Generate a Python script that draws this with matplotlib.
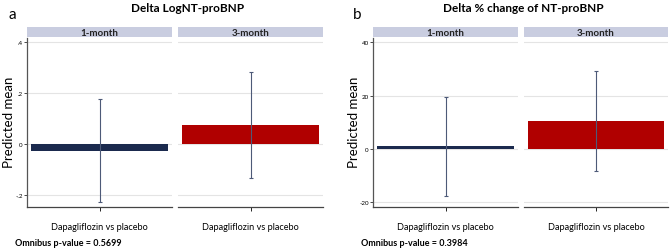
import matplotlib
matplotlib.use("Agg")
import matplotlib.pyplot as plt

plt.rcParams['font.family'] = ['Lato', 'DejaVu Sans']

# values
periods = ["1-month", "3-month"]
comparison = "Dapagliflozin vs placebo"

log_means = [-0.026, 0.075]
log_err = [0.202, 0.207]
log_ticks = [-0.2, 0, 0.2, 0.4]
log_ticklabels = ["-.2", "0", ".2", ".4"]

pct_means = [0.9, 10.5]
pct_err = [18.5, 18.7]
pct_ticks = [-20, 0, 20, 40]
pct_ticklabels = ["-20", "0", "20", "40"]

bar_colors = ["#1b2a4e", "#b00000"]
strip_color = "#c9cde0"
err_color = "#4d5a78"

W, H = 671, 251
fig = plt.figure(figsize=(W / 100, H / 100), dpi=100)


def px_box(x0, y0, x1, y1):
    # pixel box (top-left origin) -> figure fraction rect
    return [x0 / W, 1 - y1 / H, (x1 - x0) / W, (y1 - y0) / H]


def draw_panel(letter, title, panels, means, errs, ticks, ticklabels, ylim,
               pvalue, ylab_x, letter_x, title_x):
    for i, (x0, x1) in enumerate(panels):
        ax = fig.add_axes(px_box(x0, 39, x1, 208))
        ax.bar([0], [means[i]], width=0.94, color=bar_colors[i], zorder=3)
        ax.errorbar([0], [means[i]], yerr=[errs[i]], fmt="none",
                    ecolor=err_color, elinewidth=0.8, capsize=1.5,
                    capthick=0.8, zorder=4)
        ax.set_xlim(-0.5, 0.5)
        ax.set_ylim(*ylim)
        ax.set_yticks(ticks)
        for t in ticks:
            ax.axhline(t, color="#e4e4e4", lw=0.8, zorder=1)
        ax.set_xticks([0])
        ax.set_xticklabels([comparison], fontsize=6.6)
        ax.tick_params(axis="x", length=3, width=0.6, pad=8)
        for s in ["top", "right"]:
            ax.spines[s].set_visible(False)
        ax.spines["bottom"].set_color("#444444")
        ax.spines["bottom"].set_linewidth(0.9)
        if i == 0:
            ax.set_yticklabels(ticklabels, fontsize=4.5)
            ax.tick_params(axis="y", length=2, width=0.5, pad=1)
            ax.spines["left"].set_color("#555555")
            ax.spines["left"].set_linewidth(0.9)
        else:
            ax.spines["left"].set_visible(False)
            ax.tick_params(axis="y", left=False, labelleft=False)

        sax = fig.add_axes(px_box(x0, 28, x1, 38))
        sax.set_facecolor(strip_color)
        sax.set_xticks([])
        sax.set_yticks([])
        for s in sax.spines.values():
            s.set_visible(False)
        sax.text(0.5, 0.45, periods[i], ha="center", va="center",
                 fontsize=7, fontweight="bold", color="#222222",
                 transform=sax.transAxes)

    fig.text(ylab_x / W, 1 - 122 / H, "Predicted mean", rotation=90,
             ha="center", va="center", fontsize=9.5)
    fig.text(letter_x / W, 1 - 15 / H, letter, ha="center", va="center",
             fontsize=11)
    fig.text(title_x / W, 1 - 9 / H, title, ha="center", va="center",
             fontsize=8.5, fontweight="bold")
    fig.text((panels[0][0] - 12) / W, 1 - 244 / H,
             "Omnibus p-value = " + pvalue, ha="left", va="center",
             fontsize=6.5, fontweight="bold")


draw_panel("a", "Delta LogNT-proBNP", [(27, 172), (178, 323)],
           log_means, log_err, log_ticks, log_ticklabels, (-0.247, 0.416),
           "0.5699", 9, 12, 188)
draw_panel("b", "Delta % change of NT-proBNP", [(373, 518), (524, 668)],
           pct_means, pct_err, pct_ticks, pct_ticklabels, (-21.8, 41.6),
           "0.3984", 354, 357, 523)

fig.savefig("out.png", dpi=100)
